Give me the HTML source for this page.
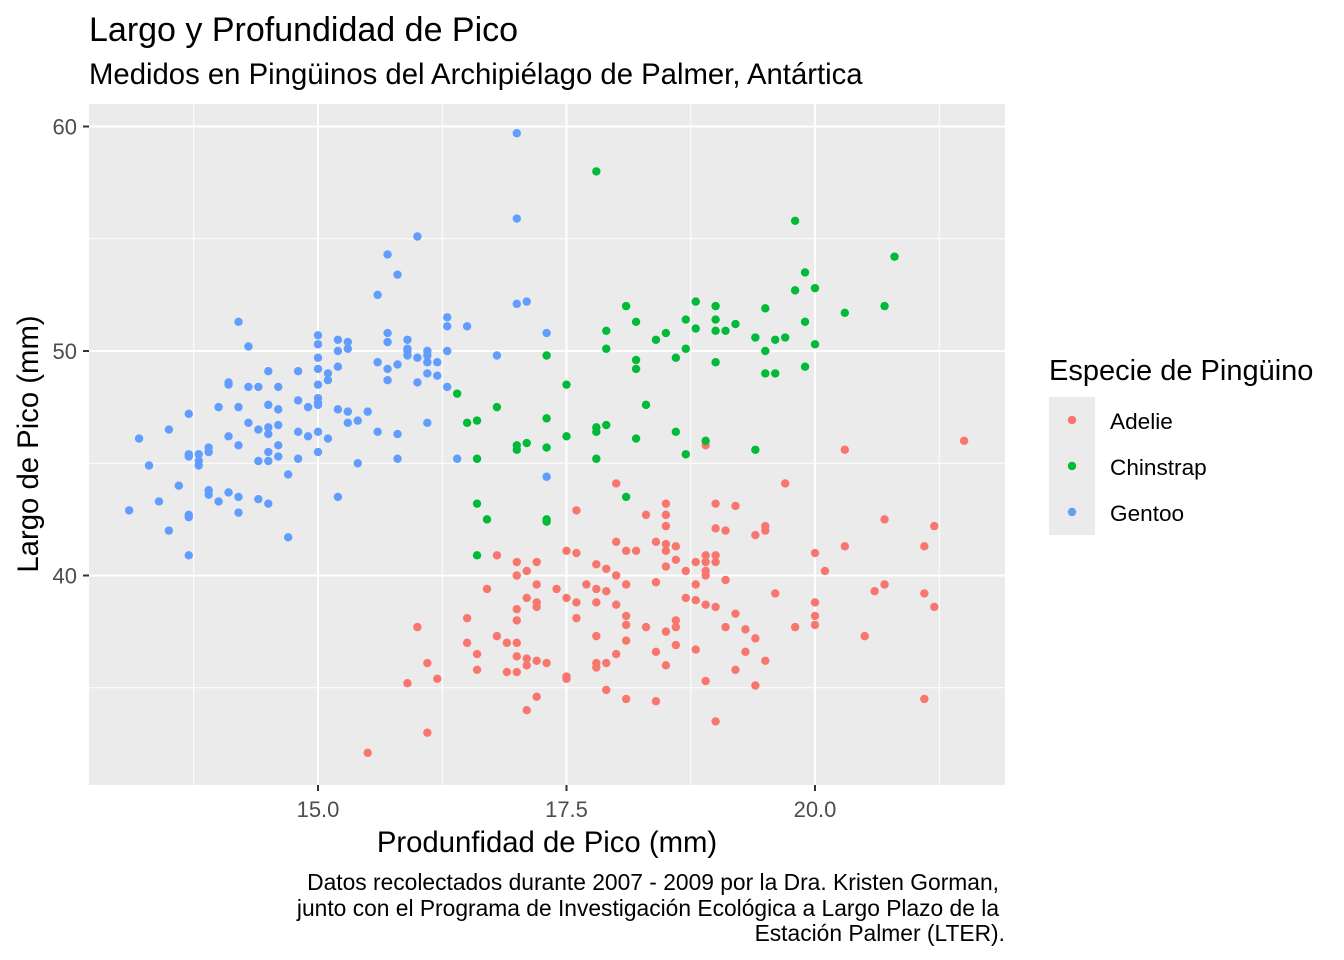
<!DOCTYPE html>
<html><head><meta charset="utf-8"><style>
html,body{margin:0;padding:0;background:#fff;}
svg{display:block;font-family:"Liberation Sans",Arial,sans-serif;}
</style></head><body>
<svg id="chart" width="1344" height="960" xmlns="http://www.w3.org/2000/svg">
<text x="89" y="41" font-size="34" fill="#000">Largo y Profundidad de Pico</text>
<text x="89" y="84" font-size="29.3" fill="#000">Medidos en Pingüinos del Archipiélago de Palmer, Antártica</text>
<rect x="89" y="104" width="916" height="681" fill="#EBEBEB"/>
<g id="grid"></g>
<g id="points"></g>
<g id="axes"></g>
<text x="547" y="852" font-size="29.3" text-anchor="middle" fill="#000">Produnfidad de Pico (mm)</text>
<text transform="translate(38,444) rotate(-90)" font-size="29.3" text-anchor="middle" fill="#000">Largo de Pico (mm)</text>
<g font-size="22.8" fill="#000" text-anchor="end">
<text x="999" y="890">Datos recolectados durante 2007 - 2009 por la Dra. Kristen Gorman,</text>
<text x="999" y="916">junto con el Programa de Investigación Ecológica a Largo Plazo de la</text>
<text x="1005" y="941">Estación Palmer (LTER).</text>
</g>
<g>
<text x="1049" y="380" font-size="29" fill="#000">Especie de Pingüino</text>
<rect x="1049" y="397" width="46" height="138" fill="#EBEBEB"/>
<circle cx="1072" cy="420" r="4.2" fill="#F8766D"/>
<circle cx="1072" cy="466" r="4.2" fill="#00BA38"/>
<circle cx="1072" cy="512" r="4.2" fill="#619CFF"/>
<text x="1110" y="429" font-size="22.6" fill="#000">Adelie</text>
<text x="1110" y="475" font-size="22.6" fill="#000">Chinstrap</text>
<text x="1110" y="521" font-size="22.6" fill="#000">Gentoo</text>
</g>
</svg>
<script>
const xTicks=[15.0,17.5,20.0];
const xTickLabels=["15.0","17.5","20.0"];
const yTicks=[40,50,60];
const yTickLabels=["40","50","60"];
const species=["Adelie","Chinstrap","Gentoo"];
const colors=["#F8766D","#00BA38","#619CFF"];
const gentooDepth=[13.1,13.2,13.3,13.4,13.5,13.5,13.6,13.7,13.7,13.7,13.7,13.7,13.7,13.8,13.8,13.8,13.9,13.9,13.9,13.9,14.0,14.0,14.1,14.1,14.1,14.1,14.2,14.2,14.2,14.2,14.2,14.3,14.3,14.3,14.4,14.4,14.4,14.4,14.5,14.5,14.5,14.5,14.5,14.5,14.5,14.6,14.6,14.6,14.6,14.6,14.7,14.7,14.8,14.8,14.8,14.8,14.9,14.9,15.0,15.0,15.0,15.0,15.0,15.0,15.0,15.0,15.0,15.0,15.1,15.1,15.1,15.2,15.2,15.2,15.2,15.2,15.3,15.3,15.3,15.3,15.4,15.4,15.5,15.6,15.6,15.6,15.7,15.7,15.7,15.7,15.7,15.8,15.8,15.8,15.8,15.9,15.9,15.9,15.9,16.0,16.0,16.0,16.1,16.1,16.1,16.1,16.1,16.2,16.2,16.3,16.3,16.3,16.3,16.4,16.5,16.8,17.0,17.0,17.0,17.1,17.3,17.3];
const gentooLength=[42.9,46.1,44.9,43.3,46.5,42.0,44.0,47.2,45.4,45.3,42.7,42.6,40.9,45.4,45.1,44.9,45.7,45.5,43.8,43.6,47.5,43.3,48.6,48.5,46.2,43.7,51.3,47.5,45.8,43.5,42.8,50.2,48.4,46.8,48.4,46.5,45.1,43.4,49.1,47.6,46.6,46.3,45.5,45.1,43.2,48.4,47.4,46.7,45.8,45.3,44.5,41.7,49.1,47.8,46.4,45.2,47.5,46.2,50.7,50.3,49.7,49.2,48.5,47.9,47.7,47.6,46.4,45.5,49.0,48.7,46.1,50.5,50.0,49.3,47.4,43.5,50.4,50.1,47.3,46.8,46.9,45.0,47.3,52.5,49.5,46.4,54.3,50.8,50.4,48.7,49.2,53.4,49.4,46.3,45.2,50.5,50.1,50.0,49.8,55.1,49.7,48.6,50.0,49.8,49.5,49.0,46.8,49.5,48.9,51.5,51.1,50.0,48.4,45.2,51.1,49.8,59.7,55.9,52.1,52.2,50.8,44.4];
const chinstrapDepth=[16.4,16.5,16.6,16.6,16.6,16.6,16.7,16.8,17.0,17.0,17.1,17.3,17.3,17.3,17.3,17.3,17.5,17.5,17.8,17.8,17.8,17.8,17.9,17.9,17.9,18.1,18.1,18.2,18.2,18.2,18.2,18.3,18.4,18.5,18.6,18.6,18.7,18.7,18.7,18.8,18.8,18.9,19.0,19.0,19.0,19.0,19.1,19.2,19.4,19.4,19.5,19.5,19.5,19.6,19.6,19.7,19.8,19.8,19.9,19.9,19.9,20.0,20.0,20.3,20.7,20.8];
const chinstrapLength=[48.1,46.8,46.9,43.2,40.9,45.2,42.5,47.5,45.8,45.6,45.9,49.8,47.0,45.7,42.5,42.4,48.5,46.2,58.0,46.6,46.4,45.2,50.9,50.1,46.7,52.0,43.5,51.3,49.6,49.2,46.1,47.6,50.5,50.8,49.7,46.4,51.4,50.1,45.4,52.2,51.0,46.0,52.0,51.4,50.9,49.5,50.9,51.2,50.6,45.6,51.9,50.0,49.0,50.5,49.0,50.6,52.7,55.8,53.5,51.3,49.3,52.8,50.3,51.7,52.0,54.2];
const adelieDepth=[15.5,15.9,16.0,16.1,16.1,16.2,16.5,16.5,16.6,16.6,16.7,16.8,16.8,16.9,16.9,17.0,17.0,17.0,17.0,17.0,17.0,17.0,17.1,17.1,17.1,17.1,17.1,17.2,17.2,17.2,17.2,17.2,17.2,17.3,17.4,17.5,17.5,17.5,17.5,17.6,17.6,17.6,17.6,17.7,17.8,17.8,17.8,17.8,17.8,17.8,17.9,17.9,17.9,17.9,18.0,18.0,18.0,18.0,18.0,18.1,18.1,18.1,18.1,18.1,18.1,18.2,18.3,18.3,18.4,18.4,18.4,18.4,18.5,18.5,18.5,18.5,18.5,18.5,18.5,18.5,18.6,18.6,18.6,18.6,18.6,18.7,18.7,18.8,18.8,18.8,18.8,18.9,18.9,18.9,18.9,18.9,18.9,18.9,19.0,19.0,19.0,19.0,19.0,19.0,19.1,19.1,19.1,19.2,19.2,19.2,19.3,19.3,19.4,19.4,19.4,19.5,19.5,19.5,19.6,19.7,19.8,20.0,20.0,20.0,20.0,20.1,20.3,20.3,20.5,20.6,20.7,20.7,21.1,21.1,21.1,21.2,21.2,21.5];
const adelieLength=[32.1,35.2,37.7,36.1,33.0,35.4,38.1,37.0,36.5,35.8,39.4,40.9,37.3,37.0,35.7,40.6,40.0,38.5,38.0,37.0,36.4,35.7,40.2,39.0,36.3,36.0,34.0,39.6,38.8,38.6,36.2,34.6,40.6,36.1,39.4,41.1,39.0,35.5,35.4,41.0,42.9,38.8,38.1,39.6,40.5,39.4,38.8,37.3,36.1,35.9,40.3,39.3,36.1,34.9,44.1,41.5,40.0,38.7,36.5,41.1,39.6,38.2,37.8,37.1,34.5,41.1,37.7,42.7,41.5,39.7,36.6,34.4,43.2,42.7,42.2,41.4,41.1,40.4,37.5,36.0,41.3,40.7,38.0,37.7,36.9,40.2,39.0,40.6,39.6,38.9,36.7,45.8,40.9,40.6,40.2,40.0,38.7,35.3,43.2,42.1,40.9,40.6,38.6,33.5,42.0,39.8,37.7,43.1,38.3,35.8,37.6,36.6,41.8,37.2,35.1,42.2,42.0,36.2,39.2,44.1,37.7,41.0,38.8,38.2,37.8,40.2,45.6,41.3,37.3,39.3,42.5,39.6,41.3,39.2,34.5,42.2,38.6,46.0];

const NS="http://www.w3.org/2000/svg";
const X=v=>318+(v-15)*99.4;
const Y=v=>351-(v-50)*22.45;
const grid=document.getElementById('grid'),pts=document.getElementById('points'),axes=document.getElementById('axes');
function mk(tag,attrs,parent){const e=document.createElementNS(NS,tag);for(const k in attrs)e.setAttribute(k,attrs[k]);parent.appendChild(e);return e;}
[13.75,16.25,18.75,21.25].forEach(v=>{const l=mk('line',{x1:X(v),x2:X(v),y1:104,y2:785,stroke:'#fff','stroke-width':1},grid);

});
[35,45,55].forEach(v=>{const l=mk('line',{x1:89,x2:1005,y1:Y(v),y2:Y(v),stroke:'#fff','stroke-width':1},grid);

});
xTicks.forEach((v,i)=>{const l=mk('line',{x1:X(v),x2:X(v),y1:104,y2:785,stroke:'#fff','stroke-width':2},grid);


const t=mk('line',{x1:X(v),x2:X(v),y1:785,y2:791,stroke:'#333','stroke-width':2},axes);


const tx=mk('text',{x:X(v),y:817,'font-size':22,'text-anchor':'middle',fill:'#4D4D4D'},axes);tx.textContent=xTickLabels[i];

});
yTicks.forEach((v,i)=>{const l=mk('line',{x1:89,x2:1005,y1:Y(v),y2:Y(v),stroke:'#fff','stroke-width':2},grid);


const t=mk('line',{x1:83,x2:89,y1:Y(v),y2:Y(v),stroke:'#333','stroke-width':2},axes);


const tx=mk('text',{x:77,y:Y(v)+8,'font-size':22,'text-anchor':'end',fill:'#4D4D4D'},axes);tx.textContent=yTickLabels[i];

});
const series=[[adelieDepth,adelieLength],[chinstrapDepth,chinstrapLength],[gentooDepth,gentooLength]];
series.forEach((s,si)=>{s[0].forEach((d,i)=>{const c=mk('circle',{cx:X(d),cy:Y(s[1][i]),r:4.2,fill:colors[si]},pts);

});});
</script>
</body></html>
